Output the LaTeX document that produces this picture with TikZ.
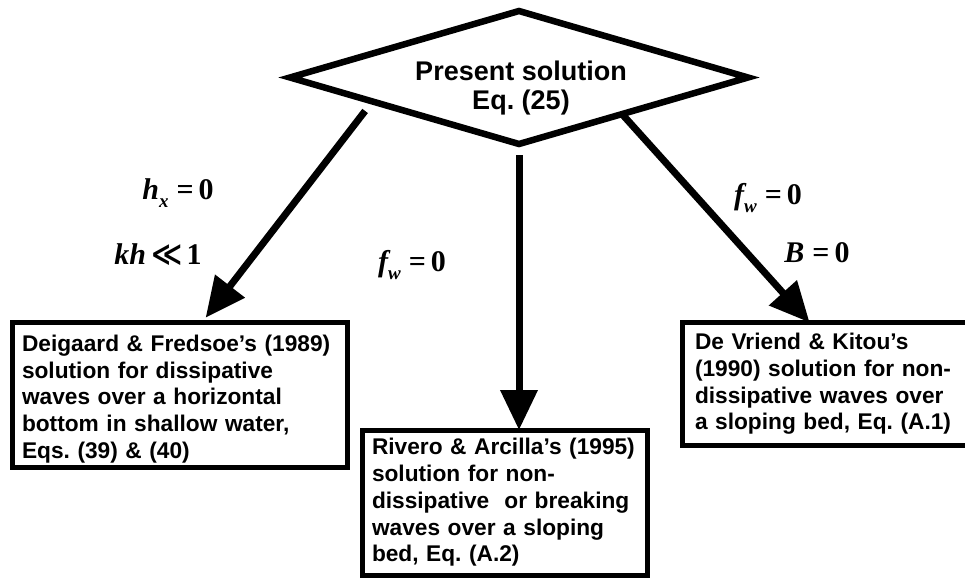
\documentclass[tikz,border=0pt]{standalone}
\usepackage{fontspec}
\setmainfont{Liberation Sans}
\newfontfamily\eqfont{Liberation Serif}
\newfontfamily\symfont{DejaVu Sans}
\usetikzlibrary{arrows.meta, shapes.geometric, calc}
\frenchspacing
\newcommand\msub[1]{\raisebox{-8pt}{\fontsize{19}{19}\selectfont\itshape #1}}
\newcommand\meq{\hspace{8pt}=\hspace{5pt}}
\tikzset{
  box/.style={draw, rectangle, line width=5pt, outer sep=0pt, anchor=north west, align=left,
    inner xsep=#1, inner ysep=0pt, font=\fontsize{22.7}{26.7}\selectfont\bfseries},
  box/.default=10pt,
  arr/.style={-{Triangle[length=40pt, width=36pt]}, line width=7pt},
  title/.style={align=center, inner sep=0pt, font=\fontsize{27}{29}\selectfont\bfseries},
  eqlabel/.style={inner sep=0pt, font=\eqfont\fontsize{30}{34}\selectfont\bfseries},
}

\begin{document}
\begin{tikzpicture}[x=1pt, y=-1pt]
  \useasboundingbox (0,0) rectangle (965,578);
  % decision diamond
  \node[diamond, draw, line width=6.5pt, minimum width=458pt, minimum height=133pt,
    inner sep=0pt, outer sep=0pt] (sol) at (519,77.5) {};
  \node[title] (soltext) at (521,88) {Present solution\\Eq. (25)};
  % limiting solutions
  \node[box, text width=315pt, minimum height=144.5pt, text height=25pt] (dg) at (12,322.5)
    {Deigaard \& Fredsoe's (1989)\\solution for dissipative\\waves over a horizontal\\bottom in shallow water,\\Eqs. (39) \& (40)};
  \node[box, text width=265pt, minimum height=145pt] (rv) at (362,430)
    {Rivero \& Arcilla's (1995)\\solution for non-\\dissipative\ \ or breaking\\waves over a sloping\\bed, Eq. (A.2)};
  \node[box=13pt, text width=264pt, minimum height=123pt] (dv) at (682,322.5)
    {De Vriend \& Kitou's\\(1990) solution for non-\\dissipative waves over\\a sloping bed, Eq. (A.1)};
  % arrows
  \draw[arr, shorten <=12pt, shorten >=6pt] ($(sol.west)!0.36!(sol.south)$) -- ($(dg.north west)!0.567!(dg.north east)$);
  \draw[arr, shorten <=11pt] (sol.south) -- (sol.south |- rv.north);
  \draw[arr] ($(sol.south)!0.45!(sol.east)$) -- ($(dv.north west)!0.44!(dv.north east)$);
  % conditions
  \node[eqlabel] (hx) at (178,193) {{\itshape h}\msub{x}\meq 0};
  \node[eqlabel] (kh) at (158,255) {{\itshape kh}\hspace{5pt}{\symfont ≪}\hspace{4pt}1};
  \node[eqlabel] (fwm) at (412,265) {{\itshape f}\msub{w}\meq 0};
  \node[eqlabel] (fwr) at (768,198) {{\itshape f}\msub{w}\meq 0};
  \node[eqlabel] (bz) at (817,253) {{\itshape B}\meq 0};
\end{tikzpicture}
\end{document}
